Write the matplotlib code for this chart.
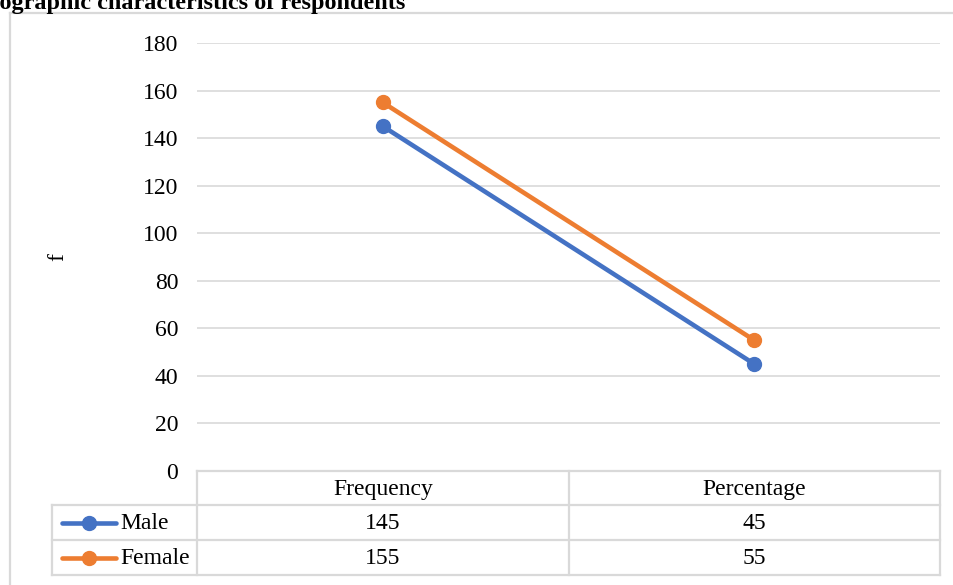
"""Line chart with an Excel-style data table underneath."""

import matplotlib
matplotlib.use("Agg")

import matplotlib.pyplot as plt
from matplotlib.lines import Line2D

# data
categorias = ["Frequency", "Percentage"]
series_nomes = ["Male", "Female"]
masculino = [145, 45]
feminino = [155, 55]
yticks = [0, 20, 40, 60, 80, 100, 120, 140, 160, 180]

CORES = ["#4472C4", "#ED7D31"]
GRADE = "#D9D9D9"
FONTE = "Liberation Serif"

plt.rcParams.update({
    "font.family": FONTE,
    "font.size": 17,
})

W, H = 954, 585
fig = plt.figure(figsize=(W / 100, H / 100), dpi=100)


def fx(px):
    return px / W


def fy(py):
    return 1 - py / H


# plot area in pixels
L, R, T, B = 197, 940, 43, 471
ax = fig.add_axes([fx(L), fy(B), fx(R - L), (B - T) / H])
ax.set_xlim(-0.5, len(categorias) - 0.5)
ax.set_ylim(0, 180)
ax.set_yticks(yticks)
ax.set_xticks([])
for s in ax.spines.values():
    s.set_visible(False)
ax.yaxis.grid(True, color=GRADE, linewidth=1.2)
ax.set_axisbelow(True)
ax.tick_params(axis="y", length=0, pad=13.5, labelsize=17)

x = list(range(len(categorias)))
for vals, cor, nome in zip([masculino, feminino], CORES, series_nomes):
    ax.plot(x, vals, color=cor, linewidth=3.3, marker="o", markersize=10,
            label=nome, solid_capstyle="round")

fig.text(fx(58), fy(257), "f", rotation=90, ha="center", va="center",
         fontsize=17)

# title (partly outside the canvas)
fig.text(fx(405), fy(9), "Demographic characteristics of respondents",
         ha="right", va="baseline", fontsize=17.5, fontweight="bold")

# outer frame
fig.add_artist(Line2D([fx(10), fx(10)], [fy(13), 0], color=GRADE, linewidth=1.6))
fig.add_artist(Line2D([fx(10), 1], [fy(13), fy(13)], color=GRADE, linewidth=1.6))

# data table
x0, x1, x2, x3 = 52, 197, 569, 940
r0, r1, r2, r3 = 471, 505, 540, 575


def hline(xa, xb, y):
    fig.add_artist(Line2D([fx(xa), fx(xb)], [fy(y), fy(y)], color=GRADE, linewidth=1.6))


def vline(xv, ya, yb):
    fig.add_artist(Line2D([fx(xv), fx(xv)], [fy(ya), fy(yb)], color=GRADE, linewidth=1.6))


hline(x1, x3, r0)
for yy in (r1, r2, r3):
    hline(x0, x3, yy)
vline(x0, r1, r3)
for xx in (x1, x2, x3):
    vline(xx, r0, r3)

centros_col = [(x1 + x2) / 2, (x2 + x3) / 2]
for cx, cat in zip(centros_col, categorias):
    fig.text(fx(cx), fy((r0 + r1) / 2 + 1), cat, ha="center", va="center", fontsize=17)

linhas = [(r1, r2), (r2, r3)]
for (ya, yb), vals, cor, nome in zip(linhas, [masculino, feminino], CORES, series_nomes):
    cy = (ya + yb) / 2
    # legend key: line with a marker in the middle
    fig.add_artist(Line2D([fx(62), fx(116)], [fy(cy), fy(cy)], color=cor,
                          linewidth=3.3, solid_capstyle="round"))
    fig.add_artist(Line2D([fx(89)], [fy(cy)], color=cor, marker="o", markersize=10,
                          linestyle="none"))
    fig.text(fx(120), fy(cy + 1), nome, ha="left", va="center", fontsize=17)
    for cx, v in zip(centros_col, vals):
        fig.text(fx(cx), fy(cy + 1), str(v), ha="center", va="center", fontsize=17)

fig.savefig("out.png", dpi=100, facecolor="white")
